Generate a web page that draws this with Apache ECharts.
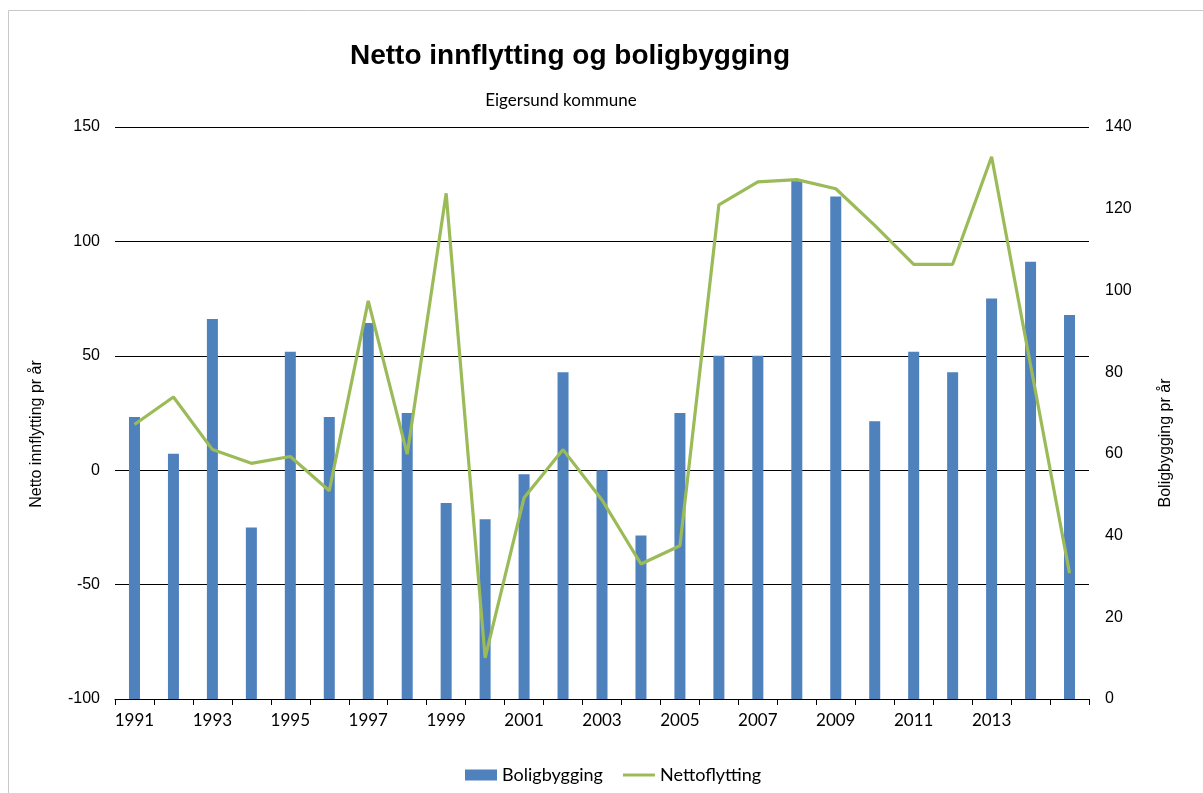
<!DOCTYPE html>
<html>
<head>
<meta charset="utf-8">
<title>Netto innflytting og boligbygging</title>
<script src="https://cdn.jsdelivr.net/npm/echarts@6/dist/echarts.min.js"></script>
<style>
  html, body { margin: 0; padding: 0; background: #fff; }
  #chart { width: 1203px; height: 793px; }
</style>
</head>
<body>
<div id="chart"></div>
<script>
// kategorier (år)
var years = ['1991', '1992', '1993', '1994', '1995', '1996', '1997', '1998', '1999', '2000',
    '2001', '2002', '2003', '2004', '2005', '2006', '2007', '2008', '2009', '2010',
    '2011', '2012', '2013', '2014', '2015'];

// Boligbygging (høyre akse)
var boligbygging = [69, 60, 93, 42, 85, 69, 92, 70, 48, 44,
    55, 80, 56, 40, 70, 84, 84, 127, 123, 68,
    85, 80, 98, 107, 94];

// Nettoflytting (venstre akse)
var nettoflytting = [20, 32, 9, 3, 6, -9, 74, 7, 121, -82,
    -12, 9, -13, -41, -33, 116, 126, 127, 123, 107,
    90, 90, 137, 46, -45];

// akser
var leftAxis = { min: -100, max: 150, step: 50, name: 'Netto innflytting pr år' };
var rightAxis = { min: 0, max: 140, step: 20, name: 'Boligbygging pr år' };

var chart = echarts.init(document.getElementById('chart'));

var option = {
    backgroundColor: '#fff',
    animation: false,
    graphic: [{
        type: 'rect',
        z: -10,
        shape: { x: 8.5, y: 10.5, width: 1300, height: 900 },
        style: { fill: 'none', stroke: '#c8c8c8', lineWidth: 1 }
    }],
    title: [{
        text: 'Netto innflytting og boligbygging',
        left: 565,
        top: 37,
        textAlign: 'center',
        textStyle: {
            fontFamily: 'Liberation Sans',
            fontWeight: 'bold',
            fontSize: 28,
            color: '#000'
        }
    }, {
        text: 'Eigersund kommune',
        left: 556,
        top: 87,
        textAlign: 'center',
        textStyle: {
            fontFamily: 'Lato',
            fontWeight: 'normal',
            fontSize: 17,
            color: '#000'
        }
    }],
    legend: {
        left: 465,
        top: 766,
        padding: 0,
        itemWidth: 32,
        itemHeight: 11,
        itemGap: 20,
        textStyle: { fontFamily: 'Lato', fontSize: 18, color: '#000' },
        data: [
            { name: 'Boligbygging', icon: 'rect' },
            { name: 'Nettoflytting', icon: 'path://M0,0L33,0L33,3L0,3Z' }
        ]
    },
    grid: {
        left: 115,
        right: 114,
        top: 127,
        bottom: 94
    },
    xAxis: {
        type: 'category',
        data: years,
        boundaryGap: true,
        axisLine: { onZero: false, lineStyle: { color: '#000', width: 1 } },
        axisTick: { show: true, interval: 0, length: 6, lineStyle: { color: '#000' } },
        axisLabel: {
            interval: function (i) { return i % 2 === 0 && i < years.length - 1; },
            margin: 13,
            fontFamily: 'Lato',
            fontSize: 17,
            color: '#000'
        },
        splitLine: { show: false }
    },
    yAxis: [{
        type: 'value',
        min: leftAxis.min,
        max: leftAxis.max,
        interval: leftAxis.step,
        name: leftAxis.name,
        nameLocation: 'middle',
        nameGap: 70,
        nameRotate: 90,
        nameTextStyle: {
            fontFamily: 'Liberation Sans',
            fontSize: 16,
            color: '#000',
            padding: [0, 42, 0, 0]
        },
        axisLine: { show: false },
        axisTick: { show: false },
        axisLabel: { margin: 15, fontFamily: 'Liberation Sans', fontSize: 16, color: '#000' },
        splitLine: { show: true, lineStyle: { color: '#000', width: 1 } }
    }, {
        type: 'value',
        position: 'right',
        min: rightAxis.min,
        max: rightAxis.max,
        interval: rightAxis.step,
        name: rightAxis.name,
        nameLocation: 'middle',
        nameGap: 69,
        nameRotate: 90,
        nameTextStyle: {
            fontFamily: 'Liberation Sans',
            fontSize: 16,
            color: '#000',
            padding: [0, 60, 0, 0]
        },
        axisLine: { show: false },
        axisTick: { show: false },
        axisLabel: { margin: 16, fontFamily: 'Liberation Sans', fontSize: 16, color: '#000' },
        splitLine: { show: false }
    }],
    series: [{
        name: 'Boligbygging',
        type: 'bar',
        yAxisIndex: 1,
        barWidth: 11,
        itemStyle: { color: '#4F81BD' },
        data: boligbygging
    }, {
        name: 'Nettoflytting',
        type: 'line',
        yAxisIndex: 0,
        symbol: 'none',
        lineStyle: { color: '#9BBB59', width: 3.2 },
        itemStyle: { color: '#9BBB59' },
        data: nettoflytting
    }]
};

chart.setOption(option);
</script>
</body>
</html>
